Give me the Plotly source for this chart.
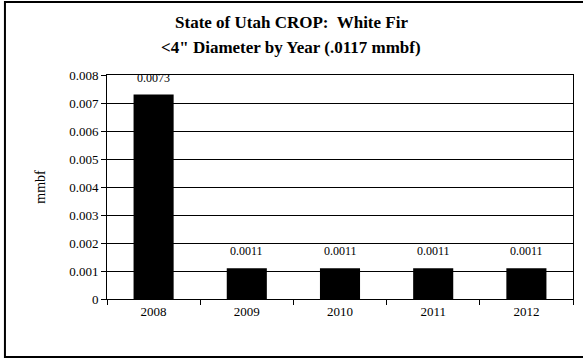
import plotly.graph_objects as go

years = ["2008", "2009", "2010", "2011", "2012"]
values = [0.0073, 0.0011, 0.0011, 0.0011, 0.0011]
y_ticks = [0, 0.001, 0.002, 0.003, 0.004, 0.005, 0.006, 0.007, 0.008]
y_tick_labels = ["0", "0.001", "0.002", "0.003", "0.004", "0.005", "0.006", "0.007", "0.008"]
title_lines = ["State of Utah CROP:  White Fir", "<4\" Diameter by Year (.0117 mmbf)"]

FONT = "Liberation Serif, Times New Roman, serif"

fig = go.Figure()
fig.add_trace(go.Bar(x=years, y=values, marker=dict(color="black", line=dict(width=0)),
                     hoverinfo="x+y"))

for i, v in enumerate(values):
    fig.add_annotation(x=i, y=v, text=f"{v:.4f}", showarrow=False, yshift=17,
                       font=dict(family=FONT, size=12, color="black"))

# second title line
fig.add_annotation(xref="paper", yref="paper", x=0.395, y=1.125, showarrow=False,
                   text="<b>" + title_lines[1].replace("<", "&lt;") + "</b>",
                   xanchor="center", yanchor="middle",
                   font=dict(family=FONT, size=17, color="black"))

# outer chart frame (right edge falls outside the picture, as in the reference)
fig.add_shape(type="rect", xref="paper", yref="paper", x0=-0.219, x1=1.04,
              y0=-0.259, y1=1.326, line=dict(color="black", width=2), layer="below")

fig.update_layout(
    width=583, height=358,
    margin=dict(l=107, r=10, t=75, b=59),
    paper_bgcolor="white", plot_bgcolor="white",
    font=dict(family=FONT, size=13, color="black"),
    bargap=0.57,
    showlegend=False,
    title=dict(text="<b>" + title_lines[0] + "</b>",
               x=0.5, xref="container", xanchor="center",
               y=1 - 22 / 358, yref="container", yanchor="middle",
               font=dict(family=FONT, size=17, color="black")),
    xaxis=dict(type="category", categoryorder="array", categoryarray=years,
               range=[-0.5, len(years) - 0.5],
               showline=True, linecolor="black", linewidth=1, mirror=True,
               ticks="outside", tickson="boundaries", ticklen=5, tickcolor="black",
               showgrid=False, tickfont=dict(size=13)),
    yaxis=dict(range=[0, 0.008], tickvals=y_ticks, ticktext=y_tick_labels,
               showline=True, linecolor="black", linewidth=1, mirror=True,
               ticks="outside", ticklen=5, tickcolor="black",
               showgrid=True, gridcolor="black", gridwidth=1, zeroline=False,
               tickfont=dict(size=13),
               title=dict(text="mmbf", standoff=20, font=dict(size=14))),
)

fig.write_html("out.html", post_script="document.body.style.margin='0px';",
               config={"displayModeBar": False})
